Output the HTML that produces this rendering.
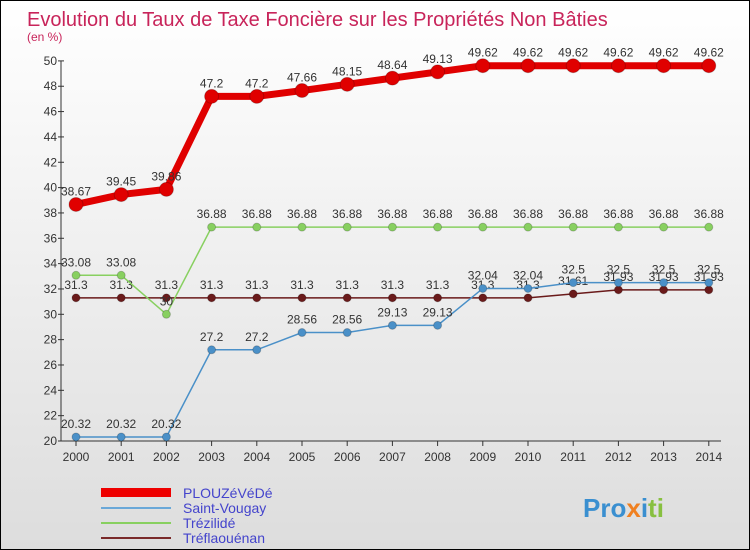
<!DOCTYPE html>
<html><head><meta charset="utf-8"><style>
body{margin:0}
#c{width:748px;height:548px;border:1px solid #000;background:linear-gradient(#fff,#ddd);position:relative;font-family:"Liberation Sans",sans-serif;overflow:hidden}
</style></head><body>
<div id="c">
<svg id="s" width="748" height="548" xmlns="http://www.w3.org/2000/svg">
<text x="26" y="25" font-size="20" fill="#c8245a">Evolution du Taux de Taxe Foncière sur les Propriétés Non Bâties</text>
<text x="26" y="40" font-size="12" fill="#c8245a">(en %)</text>
<g id="axes"></g><g id="series"></g>
<g font-size="14" fill="#4444cc">
<rect x="100" y="487" width="70" height="9" fill="#e00"/>
<text x="182" y="497">PLOUZéVéDé</text>
<line x1="100" y1="507" x2="170" y2="507" stroke="#6aa8d8" stroke-width="2"/>
<text x="182" y="512">Saint-Vougay</text>
<line x1="100" y1="522" x2="170" y2="522" stroke="#88d060" stroke-width="2"/>
<text x="182" y="527">Trézilidé</text>
<line x1="100" y1="537" x2="170" y2="537" stroke="#7a2a2a" stroke-width="2"/>
<text x="182" y="542">Tréflaouénan</text>
</g>
<text x="582" y="516" font-size="26" font-weight="bold"><tspan fill="#3a8fd0">Pro</tspan><tspan fill="#f08020">x</tspan><tspan fill="#3a8fd0">i</tspan><tspan fill="#88c040">ti</tspan></text>
</svg></div>
<script>
const years=[2000,2001,2002,2003,2004,2005,2006,2007,2008,2009,2010,2011,2012,2013,2014];
const plouz=[38.67,39.45,39.86,47.2,47.2,47.66,48.15,48.64,49.13,49.62,49.62,49.62,49.62,49.62,49.62];
const vougay=[20.32,20.32,20.32,27.2,27.2,28.56,28.56,29.13,29.13,32.04,32.04,32.5,32.5,32.5,32.5];
const trez=[33.08,33.08,30,36.88,36.88,36.88,36.88,36.88,36.88,36.88,36.88,36.88,36.88,36.88,36.88];
const tref=[31.3,31.3,31.3,31.3,31.3,31.3,31.3,31.3,31.3,31.3,31.3,31.61,31.93,31.93,31.93];
const yTicks=[20,22,24,26,28,30,32,34,36,38,40,42,44,46,48,50];
const NS='http://www.w3.org/2000/svg';
const X=i=>75+i*45.2, Y=v=>440-(v-20)*12.67;
function mk(t,a,p){const e=document.createElementNS(NS,t);for(const k in a)e.setAttribute(k,a[k]);p.appendChild(e);return e;}
const ax=document.getElementById('axes'),se=document.getElementById('series');
let l=mk('line',{x1:60,y1:Y(50),x2:60,y2:440,stroke:'#333'},ax);

l=mk('line',{x1:60,y1:440,x2:720,y2:440,stroke:'#333'},ax);

yTicks.forEach(v=>{mk('line',{x1:57,y1:Y(v),x2:63,y2:Y(v),stroke:'#333'},ax);
 const t=mk('text',{x:56,y:Y(v)+4,'font-size':12,'text-anchor':'end',fill:'#333'},ax);t.textContent=v;
 });
years.forEach((y,i)=>{mk('line',{x1:X(i),y1:440,x2:X(i),y2:445,stroke:'#333'},ax);
 const t=mk('text',{x:X(i),y:460,'font-size':12,'text-anchor':'middle',fill:'#333'},ax);t.textContent=y;
 });
function series(d,c,w,r,name){
 const g=mk('g',{},se);
 mk('polyline',{points:d.map((v,i)=>X(i)+','+Y(v)).join(' '),fill:'none',stroke:c,'stroke-width':w},g);
 d.forEach((v,i)=>{const p=mk('circle',{cx:X(i),cy:Y(v),r:r,fill:c,stroke:'#0003'},g);
  
  const t=mk('text',{x:X(i),y:Y(v)-9,'font-size':12,'text-anchor':'middle',fill:'#333'},g);t.textContent=v;
  });
}
series(tref,'#6a1a1a',1.5,4,'treflaouenan');
series(trez,'#88d060',1.5,4,'trezilide');
series(vougay,'#4a90c8',1.5,4,'saint-vougay');
series(plouz,'#e00000',7,7,'plouzevede');
</script>
</body></html>
